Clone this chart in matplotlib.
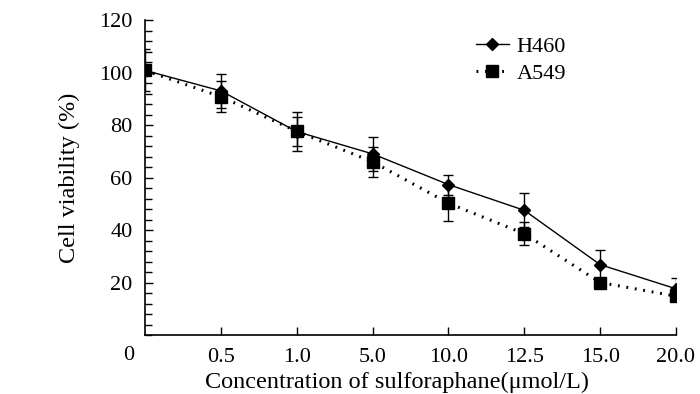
import matplotlib
matplotlib.use("Agg")
from matplotlib import pyplot as plt
from matplotlib.ticker import MultipleLocator

# DATA
concentrations = ["0", "0.5", "1.0", "5.0", "10.0", "12.5", "15.0", "20.0"]
h460_mean = [100.8, 93.0, 77.5, 69.0, 57.3, 47.5, 26.8, 17.6]
h460_sd = [8.0, 6.5, 7.5, 6.5, 3.8, 6.5, 5.6, 4.2]
a549_mean = [100.8, 90.8, 77.6, 66.0, 50.2, 38.6, 20.0, 14.8]
a549_sd = [1.5, 5.8, 5.5, 5.8, 6.8, 4.5, 1.0, 1.8]

plt.rcParams['font.family'] = ['Liberation Serif', 'DejaVu Serif']

fig = plt.figure(figsize=(7.0, 3.94), dpi=100)
ax = fig.add_axes([145 / 700, 1 - 335 / 394, (676 - 145) / 700, (335 - 20) / 394])

xs = list(range(len(concentrations)))

h460 = ax.errorbar(xs, h460_mean, yerr=h460_sd, color='black', linewidth=1.0,
                   marker='D', markersize=6, capsize=3.5, elinewidth=1.0, capthick=1.0,
                   label='H460', zorder=3)
a549 = ax.errorbar(xs, a549_mean, yerr=a549_sd, color='black', linewidth=2.2,
                   linestyle=(0, (0.6, 2.2)), marker='s', markersize=9, capsize=3.5,
                   elinewidth=1.0, capthick=1.0, label='A549', zorder=2)

ax.set_xlim(0, 7)
ax.set_ylim(0, 120)
ax.set_xticks(xs[1:])
ax.set_xticklabels(concentrations[1:])
ax.text(-0.22, -0.065, concentrations[0], transform=ax.get_xaxis_transform(),
        ha='center', va='center', fontsize=16)

ax.yaxis.set_major_locator(MultipleLocator(20))
ax.yaxis.set_minor_locator(MultipleLocator(4))
ax.set_yticks([20, 40, 60, 80, 100, 120])

ax.spines['top'].set_visible(False)
ax.spines['right'].set_visible(False)
ax.spines['left'].set_linewidth(1.2)
ax.spines['bottom'].set_linewidth(1.2)
ax.spines['left'].set_clip_on(False)

ax.tick_params(axis='both', which='major', direction='in', length=6, width=1.0,
               labelsize=16, pad=9)
ax.tick_params(axis='y', which='minor', direction='in', length=5, width=1.0)
ax.tick_params(axis='x', which='major', pad=9)

ax.set_ylabel('Cell viability (%)', fontsize=17.5, labelpad=14)
ax.set_xlabel('Concentration of sulforaphane(\u03bcmol/L)', fontsize=17.5)
ax.xaxis.set_label_coords(0.474, -0.117)

leg = ax.legend([h460[0], a549[0]], ['H460', 'A549'],
                loc='upper left', bbox_to_anchor=(0.585, 1.012), frameon=False,
                fontsize=16, handlelength=1.5, handletextpad=0.35,
                labelspacing=0.3)

fig.savefig('out.png', dpi=100)
